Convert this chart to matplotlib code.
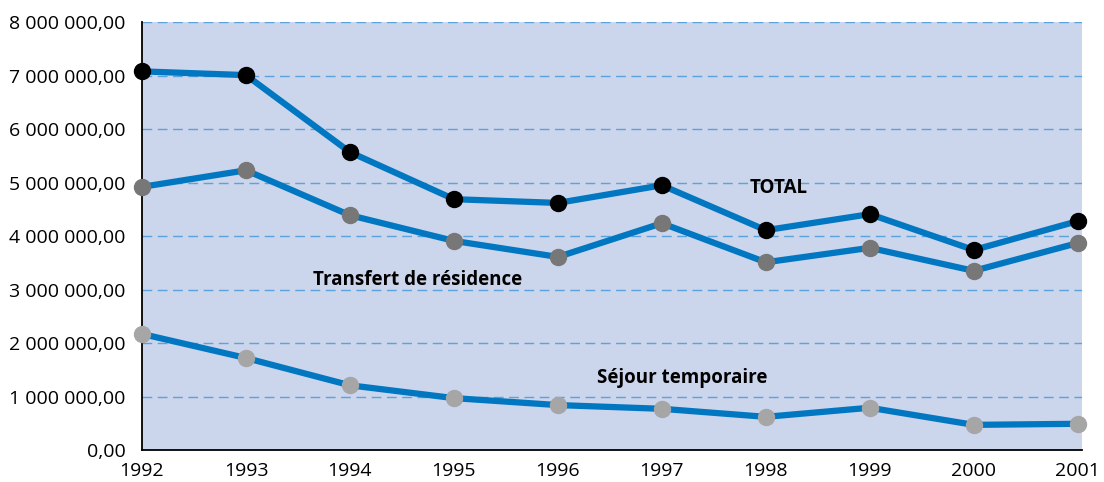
import matplotlib.pyplot as plt
from matplotlib.ticker import FuncFormatter

plt.rcParams['font.family'] = ['Open Sans', 'DejaVu Sans']

years = [1992, 1993, 1994, 1995, 1996, 1997, 1998, 1999, 2000, 2001]
total = [7.08, 7.01, 5.57, 4.69, 4.62, 4.95, 4.11, 4.41, 3.74, 4.28]
transfert = [4.92, 5.23, 4.39, 3.91, 3.61, 4.24, 3.51, 3.78, 3.35, 3.87]
sejour = [2.17, 1.72, 1.21, 0.97, 0.84, 0.77, 0.62, 0.79, 0.47, 0.49]

# values in millions
total = [v * 1e6 for v in total]
transfert = [v * 1e6 for v in transfert]
sejour = [v * 1e6 for v in sejour]

line_col = '#0077c0'

fig = plt.figure(figsize=(11.04, 4.82), dpi=100)
ax = fig.add_axes([0.1286, 0.0664, 0.8514, 0.8876])
ax.set_facecolor('#cbd5ec')

for vals, mcol in [(total, '#000000'), (transfert, '#777777'), (sejour, '#a6a6a6')]:
    ax.plot(years, vals, color=line_col, lw=4.5, marker='o', ms=11.5,
            mfc=mcol, mec=mcol, zorder=3, clip_on=False)

ax.set_xlim(1992, 2001.04)
ax.set_ylim(0, 8e6)
ax.set_yticks([i * 1e6 for i in range(9)])
ax.set_xticks(years)

def fmt(v, pos):
    s = '{:,.2f}'.format(v)
    return s.replace(',', ' ').replace('.', ',')

ax.yaxis.set_major_formatter(FuncFormatter(fmt))
ax.tick_params(axis='both', length=0, labelsize=14)
ax.tick_params(axis='y', pad=12)
ax.tick_params(axis='x', pad=9)

ax.grid(axis='y', color='#5aa3dc', ls=(0, (7, 4)), lw=1)
ax.set_axisbelow(True)

for s in ['top', 'right']:
    ax.spines[s].set_visible(False)
for s in ['left', 'bottom']:
    ax.spines[s].set_linewidth(1.3)
    ax.spines[s].set_color('black')

ax.text(1998.12, 4.9e6, 'TOTAL', fontsize=13.5, fontweight='bold', ha='center', va='center')
ax.text(1994.65, 3.17e6, 'Transfert de résidence', fontsize=13.5, fontweight='bold', ha='center', va='center')
ax.text(1997.2, 1.34e6, 'Séjour temporaire', fontsize=13.5, fontweight='bold', ha='center', va='center')

plt.savefig('out.png', dpi=100)
